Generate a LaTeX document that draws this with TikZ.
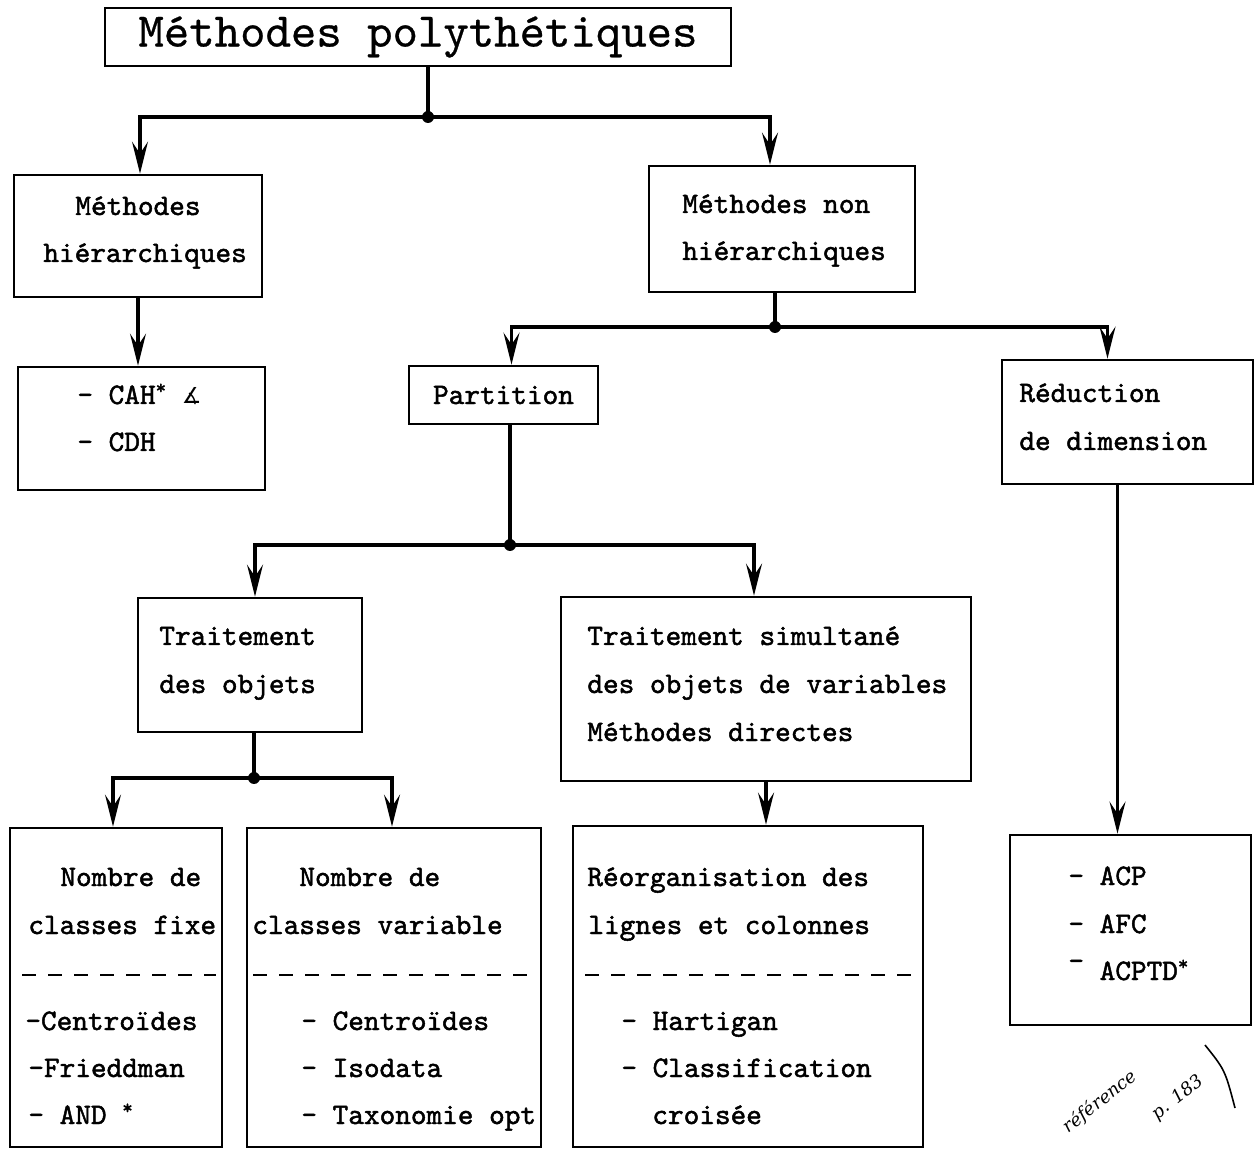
\documentclass[tikz,border=0pt]{standalone}
\usepackage{fontspec}
\newfontfamily\typew[FakeBold=1.6]{lmmono10-regular.otf}
\newfontfamily\typet[FakeBold=0.6]{lmmono10-regular.otf}
\newfontfamily\symb{DejaVu Sans}
\newfontfamily\hand{DejaVu Serif}
\usetikzlibrary{arrows.meta}

\tikzset{
	box/.style={draw, line width=1.4pt, inner sep=0pt},
	ln/.style={anchor=base west, inner sep=0pt, font=\typew\fontsize{14.9}{14.9}\selectfont},
	arr/.style={line width=1.6pt, -{Stealth[length=16pt, width=8pt, inset=6pt]}},
	link/.style={line width=1.6pt},
	dot/.style={circle, fill, inner sep=0pt, minimum size=6pt},
	sep/.style={line width=1.2pt, dash pattern=on 7pt off 6pt}
}

\begin{document}
\begin{tikzpicture}[x=0.5pt, y=-0.5pt]
	\useasboundingbox (0,0) rectangle (1259,1149);
	
	% boxes
	\node[box, minimum width=313pt, minimum height=29pt, font=\typet\fontsize{24.2}{24.2}\selectfont] (title) at (418,37) {Méthodes polythétiques};
	\node[box, minimum width=124pt, minimum height=61pt] (hier) at (138,236) {};
	\node[box, minimum width=133pt, minimum height=63pt] (nonhier) at (782,229) {};
	\node[box, minimum width=123.5pt, minimum height=61.5pt] (cah) at (141.5,428.5) {};
	\node[box, minimum width=94.5pt, minimum height=29pt, font=\typew\fontsize{14.9}{14.9}\selectfont] (partition) at (503.5,395) {Partition};
	\node[box, minimum width=125.5pt, minimum height=62pt] (reduc) at (1127.5,422) {};
	\node[box, minimum width=112pt, minimum height=67pt] (objets) at (250,665) {};
	\node[box, minimum width=205pt, minimum height=92pt] (simul) at (766,689) {};
	\node[box, minimum width=106pt, minimum height=159.5pt] (fixe) at (116,987.5) {};
	\node[box, minimum width=147pt, minimum height=159.5pt] (variable) at (394,987.5) {};
	\node[box, minimum width=175pt, minimum height=160.5pt] (reorg) at (748,986.5) {};
	\node[box, minimum width=120.5pt, minimum height=95pt] (acp) at (1130.5,930) {};
	
	% texts
	\node[ln] (hier1) at (75,215) {Méthodes};
	\node[ln] (hier2) at (43,262) {hiérarchiques};
	\node[ln] (nonhier1) at (682,213) {Méthodes non};
	\node[ln] (nonhier2) at (682,260) {hiérarchiques};
	\node[ln] (cah1) at (77,404) {- CAH\raisebox{5pt}{\fontsize{10}{10}\selectfont*} {\symb\fontsize{11}{11}\selectfont ∡}};
	\node[ln] (cah2) at (77,451) {- CDH};
	\node[ln] (reduc1) at (1019,402) {Réduction};
	\node[ln] (reduc2) at (1019,450) {de dimension};
	\node[ln] (objets1) at (159,645) {Traitement};
	\node[ln] (objets2) at (159,693) {des objets};
	\node[ln] (simul1) at (587,645) {Traitement simultané};
	\node[ln] (simul2) at (587,693) {des objets de variables};
	\node[ln] (simul3) at (587,741) {Méthodes directes};
	\node[ln] (fixe1) at (60,886) {Nombre de};
	\node[ln] (fixe2) at (28,934) {classes fixe};
	\node[ln] (fixe3) at (25,1030) {-Centroïdes};
	\node[ln] (fixe4) at (28,1077) {-Frieddman};
	\node[ln] (fixe5) at (28,1124) {- AND \raisebox{5pt}{\fontsize{10}{10}\selectfont*}};
	\node[ln] (var1) at (299,886) {Nombre de};
	\node[ln] (var2) at (252,934) {classes variable};
	\node[ln] (var3) at (301,1030) {- Centroïdes};
	\node[ln] (var4) at (301,1077) {- Isodata};
	\node[ln] (var5) at (301,1124) {- Taxonomie opt};
	\node[ln] (reorg1) at (587,886) {Réorganisation des};
	\node[ln] (reorg2) at (588,934) {lignes et colonnes};
	\node[ln] (reorg3) at (621,1030) {- Hartigan};
	\node[ln] (reorg4) at (621,1077) {- Classification};
	\node[ln] (reorg5) at (652,1124) {croisée};
	\node[ln] (acp1) at (1068,885) {- ACP};
	\node[ln] (acp2) at (1068,933) {- AFC};
	\node[ln] (acp3) at (1068,980) {\raisebox{5pt}{-} ACPTD\raisebox{5pt}{\fontsize{10}{10}\selectfont*}};
	
	% separators
	\draw[sep] (22,975) -- (216,975);
	\draw[sep] (253,975) -- (538,975);
	\draw[sep] (585,975) -- (912,975);
	
	% junctions
	\coordinate (j1) at (428,117);
	\coordinate (j2) at (775,327);
	\coordinate (j3) at (510,545);
	\coordinate (j4) at (254,778);
	
	\draw[link] (title.south -| j1) -- (j1);
	\draw[arr] (j1) -| ([xshift=1pt]hier.north);
	\draw[arr] (j1) -| ([xshift=-6pt]nonhier.north);
	\draw[arr] (hier.south) -- (hier.south |- cah.north);
	
	\draw[link] (nonhier.south -| j2) -- (j2);
	\draw[arr] (j2) -| ([xshift=4pt]partition.north);
	\draw[arr] (j2) -| ([xshift=-10pt]reduc.north);
	
	\draw[link] (partition.south -| j3) -- (j3);
	\draw[arr] (j3) -| ([xshift=2.5pt]objets.north);
	\draw[arr] (j3) -| ([xshift=-6pt]simul.north);
	
	\draw[link] (objets.south -| j4) -- (j4);
	\draw[arr] (j4) -| ([xshift=-1.5pt]fixe.north);
	\draw[arr] (j4) -| ([xshift=-1pt]variable.north);
	
	\draw[arr] (simul.south) -- (simul.south |- reorg.north);
	\draw[arr] ([xshift=-5pt]reduc.south) -- ([xshift=-5pt]reduc.south |- acp.north);
	
	\foreach \j in {j1,j2,j3,j4}
		\node[dot] at (\j) {};
	
	% note
	\node[font=\hand\itshape\fontsize{9}{9}\selectfont, rotate=38] (note1) at (1100,1102) {référence};
	\node[font=\hand\itshape\fontsize{9}{9}\selectfont, rotate=38] (note2) at (1178,1098) {p. 183};
	\draw[line width=0.8pt] (1205,1045) .. controls (1225,1070) .. (1235,1108);
\end{tikzpicture}
\end{document}
